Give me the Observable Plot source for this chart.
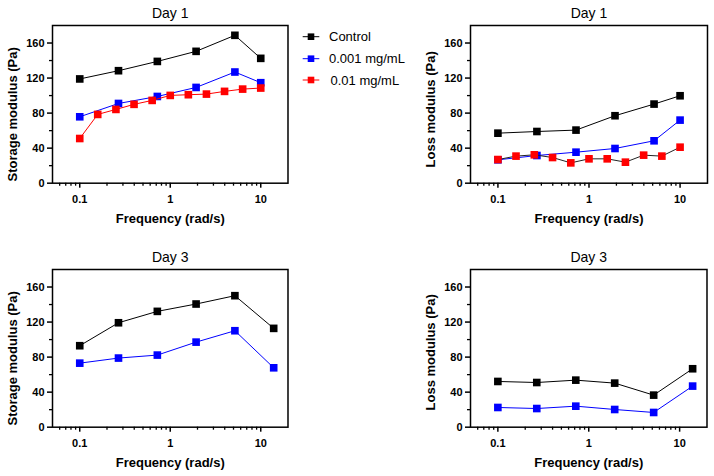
<!DOCTYPE html>
<html>
<head>
<meta charset="utf-8">
<script src="https://cdn.jsdelivr.net/npm/d3@7"></script>
<script src="https://cdn.jsdelivr.net/npm/@observablehq/plot@0.6"></script>
<style>
  html, body { margin: 0; padding: 0; background: #fff; }
  #root { position: relative; width: 714px; height: 476px; overflow: hidden; background: #fff; }
  #root > svg { position: absolute; }
</style>
</head>
<body>
<div id="root"></div>
<script>
// ---------- data ----------
const seriesNames = ["Control", "0.001 mg/mL", "0.01 mg/mL"];
const seriesColors = ["#000000", "#0000ff", "#ff0000"];

const freqDay1 = [0.1, 0.268, 0.72, 1.93, 5.18, 10];
const freqDay1Fine = [0.1, 0.158, 0.251, 0.398, 0.631, 1, 1.585, 2.512, 3.981, 6.31, 10];
const freqDay3 = [0.1, 0.268, 0.72, 1.93, 5.18, 13.9];

const storageDay1Control = [119, 128.4, 139, 150.5, 168.8, 142.5];
const storageDay1Low = [75.8, 91, 99, 109.3, 126.9, 114.7];
const storageDay1High = [51, 78.5, 84.2, 90, 94.5, 100.2, 101, 101.7, 104.8, 107.4, 108.6];

const lossDay1Control = [57.1, 59, 60.6, 77, 90.3, 99.8];
const lossDay1Low = [26.7, 31.6, 35.4, 39.6, 48.4, 72];
const lossDay1High = [27, 30.9, 32.4, 29.3, 23.2, 27.8, 27.8, 24, 32, 30.9, 41.1];

const storageDay3Control = [93, 119.2, 132.2, 140.6, 150.1, 112.8];
const storageDay3Low = [73.1, 78.9, 82.3, 97.1, 110.1, 67.8];

const lossDay3Control = [52.2, 51, 53.7, 50.3, 36.6, 66.7];
const lossDay3Low = [22.5, 21.3, 24, 20.2, 16.8, 46.9];

const xMajorTicks = [0.1, 1, 10];
const xMinorTicks = [0.06, 0.07, 0.08, 0.09, 0.2, 0.3, 0.4, 0.5, 0.6, 0.7, 0.8, 0.9, 2, 3, 4, 5, 6, 7, 8, 9];
const yMajorTicks = [0, 40, 80, 120, 160];
const yMinorTicks = [20, 60, 100, 140];

// ---------- helpers ----------
const FONT = "'Liberation Sans', Arial, Helvetica, sans-serif";
const root = document.getElementById("root");

function toRows(xs, ys) { return xs.map((x, i) => ({x, y: ys[i]})); }

function panel({title, ylabel, ylabelShift, series, left, top, frameW, frameH}) {
  const mL = 52, mT = 25, mR = 14, mB = 58;
  const marks = [
    Plot.axisX({ticks: xMinorTicks, tickSize: 3, text: null, strokeWidth: 1.3, label: null}),
    Plot.axisX({ticks: xMajorTicks, tickSize: 5, tickPadding: 6.5, strokeWidth: 1.5, label: null,
      tickFormat: d => String(d), fontSize: 11, fontWeight: "bold"}),
    Plot.axisY({ticks: yMinorTicks, tickSize: 3, text: null, strokeWidth: 1.3, label: null}),
    Plot.axisY({ticks: yMajorTicks, tickSize: 5, tickPadding: 3, strokeWidth: 1.5, label: null,
      tickFormat: d => String(d), fontSize: 11, fontWeight: "bold"}),
    Plot.frame({stroke: "black", strokeWidth: 1.5})
  ];
  for (const s of series) {
    const rows = toRows(s.x, s.y);
    marks.push(Plot.line(rows, {x: "x", y: "y", stroke: s.line || s.color, strokeWidth: 1}));
    marks.push(Plot.dot(rows, {x: "x", y: "y", symbol: "square", r: 4.3, fill: s.color, stroke: "none"}));
  }
  marks.push(Plot.text([title], {text: d => d, frameAnchor: "top", dy: -11.7, fontSize: 14,
    fontWeight: "normal", lineAnchor: "middle", textAnchor: "middle"}));
  marks.push(Plot.text(["Frequency (rad/s)"], {text: d => d, frameAnchor: "bottom", dy: 35.5, fontSize: 13,
    fontWeight: "bold", lineAnchor: "middle", textAnchor: "middle"}));
  marks.push(Plot.text([ylabel], {text: d => d, frameAnchor: "left", dx: -40, dy: ylabelShift, rotate: -90,
    fontSize: 13, fontWeight: "bold", lineAnchor: "middle", textAnchor: "middle"}));
  const svg = Plot.plot({
    width: mL + frameW + mR,
    height: mT + frameH + mB,
    marginLeft: mL, marginTop: mT, marginRight: mR, marginBottom: mB,
    x: {type: "log", domain: [0.05, 20], axis: null},
    y: {domain: [0, 180], axis: null},
    style: {fontFamily: FONT, color: "black", background: "transparent", overflow: "visible"},
    marks
  });
  svg.style.left = (left - mL) + "px";
  svg.style.top = (top - mT) + "px";
  root.appendChild(svg);
}

panel({
  title: "Day 1", ylabel: "Storage modulus (Pa)", ylabelShift: 10, left: 51.7, top: 25, frameW: 235.5, frameH: 157.7,
  series: [
    {x: freqDay1, y: storageDay1Control, color: seriesColors[0]},
    {x: freqDay1, y: storageDay1Low, color: seriesColors[1]},
    {x: freqDay1Fine, y: storageDay1High, color: seriesColors[2]}
  ]
});
panel({
  title: "Day 1", ylabel: "Loss modulus (Pa)", ylabelShift: 5, left: 470, top: 25, frameW: 237, frameH: 157.7,
  series: [
    {x: freqDay1, y: lossDay1Control, color: seriesColors[0]},
    {x: freqDay1, y: lossDay1Low, color: seriesColors[1]},
    {x: freqDay1Fine, y: lossDay1High, color: seriesColors[2], line: "#222222"}
  ]
});
panel({
  title: "Day 3", ylabel: "Storage modulus (Pa)", ylabelShift: 10, left: 51.7, top: 269.3, frameW: 235.5, frameH: 157.7,
  series: [
    {x: freqDay3, y: storageDay3Control, color: seriesColors[0]},
    {x: freqDay3, y: storageDay3Low, color: seriesColors[1]}
  ]
});
panel({
  title: "Day 3", ylabel: "Loss modulus (Pa)", ylabelShift: 4, left: 470, top: 269.3, frameW: 236.5, frameH: 157.7,
  series: [
    {x: freqDay3, y: lossDay3Control, color: seriesColors[0]},
    {x: freqDay3, y: lossDay3Low, color: seriesColors[1]}
  ]
});

// ---------- legend ----------
const leg = d3.select(root).append("svg")
  .attr("width", 120).attr("height", 80)
  .style("left", "298px").style("top", "24px");
const rowsY = [12.7, 34.7, 56];
seriesNames.forEach((name, i) => {
  const g = leg.append("g").attr("transform", `translate(0,${rowsY[i]})`);
  g.append("line").attr("x1", 4.7).attr("x2", 21.3).attr("y1", 0).attr("y2", 0)
    .attr("stroke", seriesColors[i]).attr("stroke-width", 1);
  g.append("rect").attr("x", 9.7).attr("y", -3.3).attr("width", 6.6).attr("height", 6.6)
    .attr("fill", seriesColors[i]);
  g.append("text").attr("x", i === 2 ? 32.5 : 31).attr("y", 0).attr("dy", "0.35em")
    .attr("font-family", FONT).attr("font-size", 13).attr("fill", "black").text(name);
});
</script>
</body>
</html>
